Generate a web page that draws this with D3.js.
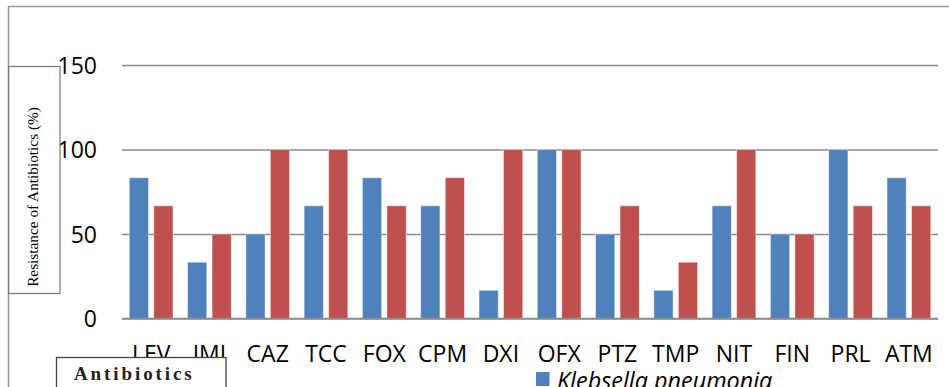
<!DOCTYPE html>
<html>
<head>
<meta charset="utf-8">
<script src="https://cdn.jsdelivr.net/npm/d3@7/dist/d3.min.js"></script>
<style>
  html, body { margin: 0; padding: 0; background: #fff; overflow: hidden; }
  svg { display: block; }
</style>
</head>
<body>
<svg id="chart" width="949" height="387"></svg>
<script>
// Antibiotic resistance (%) per drug, two isolates
const categories = ["LEV", "IMI", "CAZ", "TCC", "FOX", "CPM", "DXI", "OFX", "PTZ", "TMP", "NIT", "FIN", "PRL", "ATM"];
const seriesNames = ["Klebsella pneumonia", "Second isolate"];
const klebsiella = [83.3, 33.3, 50, 66.7, 83.3, 66.7, 16.7, 100, 50, 16.7, 66.7, 50, 100, 83.3];
const secondIsolate = [66.7, 50, 100, 100, 66.7, 83.3, 100, 100, 66.7, 33.3, 100, 50, 66.7, 66.7];
const yTicks = [0, 50, 100, 150];
const colors = ["#4F81BD", "#C0504D"];

const svg = d3.select("#chart");
const plot = { left: 122, right: 938, top: 65, bottom: 318.5 };

const x0 = d3.scaleBand().domain(categories).range([plot.left, plot.right]).padding(0);
const bw = x0.bandwidth();
const x1 = d3.scaleBand().domain([0, 1]).range([bw * 0.125, bw * 0.875]).paddingInner(0.216).paddingOuter(0);
const y = d3.scaleLinear().domain([0, 150]).range([plot.bottom, plot.top]);

// outer chart frame (left and top edges)
svg.append("path")
  .attr("d", `M8.5,387 L8.5,6.5 L949,6.5`)
  .attr("fill", "none").attr("stroke", "#9a9a9a").attr("stroke-width", 1.5);

// gridlines with value labels
const yAxis = svg.append("g").attr("transform", `translate(${plot.left},0)`)
  .call(d3.axisLeft(y).tickValues(yTicks).tickSize(-(plot.right - plot.left)).tickPadding(25));
yAxis.select(".domain").remove();
yAxis.selectAll(".tick line").attr("stroke", "#8a8a8a").attr("stroke-width", 1.6);
yAxis.selectAll(".tick text")
  .attr("font-family", "'Open Sans', sans-serif")
  .attr("font-size", 23)
  .attr("fill", "#000")
  .attr("dy", "0.36em");

// bars
const data = categories.map((c, i) => ({ cat: c, vals: [klebsiella[i], secondIsolate[i]] }));
const groups = svg.append("g").selectAll("g").data(data).join("g")
  .attr("transform", d => `translate(${x0(d.cat)},0)`);
groups.selectAll("rect").data(d => d.vals.map((v, k) => ({ v, k }))).join("rect")
  .attr("x", d => x1(d.k))
  .attr("width", x1.bandwidth())
  .attr("y", d => y(d.v))
  .attr("height", d => y(0) - y(d.v))
  .attr("fill", d => colors[d.k])
  .attr("stroke", "rgba(255,255,255,0.45)")
  .attr("stroke-width", 1);

// baseline
svg.append("line")
  .attr("x1", plot.left).attr("x2", plot.right)
  .attr("y1", y(0)).attr("y2", y(0))
  .attr("stroke", "#8a8a8a").attr("stroke-width", 1.6);

// category labels
const xAxis = svg.append("g").attr("transform", `translate(0,${y(0)})`)
  .call(d3.axisBottom(x0).tickSize(0).tickPadding(0));
xAxis.select(".domain").remove();
xAxis.selectAll(".tick text")
  .attr("font-family", "'Open Sans', sans-serif")
  .attr("font-size", 23)
  .attr("fill", "#000")
  .attr("dy", null)
  .attr("y", 43);

// y-axis title box
svg.append("rect")
  .attr("x", 8.5).attr("y", 66.5).attr("width", 51.5).attr("height", 227)
  .attr("fill", "none").attr("stroke", "#777").attr("stroke-width", 1.2);
svg.append("text")
  .attr("transform", "translate(37.5,197) rotate(-90)")
  .attr("text-anchor", "middle")
  .attr("font-family", "'Liberation Serif', 'Times New Roman', serif")
  .attr("font-size", 15.3)
  .attr("fill", "#000")
  .text("Resistance of Antibiotics (%)");

// x-axis title box
svg.append("rect")
  .attr("x", 56.5).attr("y", 357.5).attr("width", 169.5).attr("height", 40)
  .attr("fill", "#fff").attr("stroke", "#444").attr("stroke-width", 1.3);
svg.append("text")
  .attr("x", 74).attr("y", 380)
  .attr("font-family", "'Liberation Serif', 'Times New Roman', serif")
  .attr("font-weight", "bold")
  .attr("font-size", 19)
  .attr("letter-spacing", 2.9)
  .attr("fill", "#222")
  .text("Antibiotics");

// legend (first entry visible)
const legend = svg.append("g").attr("transform", "translate(536,372)");
legend.append("rect").attr("width", 13.5).attr("height", 14).attr("fill", colors[0]);
legend.append("text")
  .attr("x", 21).attr("y", 16.5)
  .attr("font-family", "'Open Sans', sans-serif")
  .attr("font-style", "italic")
  .attr("font-size", 23.4)
  .attr("fill", "#000")
  .text(seriesNames[0]);
</script>
</body>
</html>
